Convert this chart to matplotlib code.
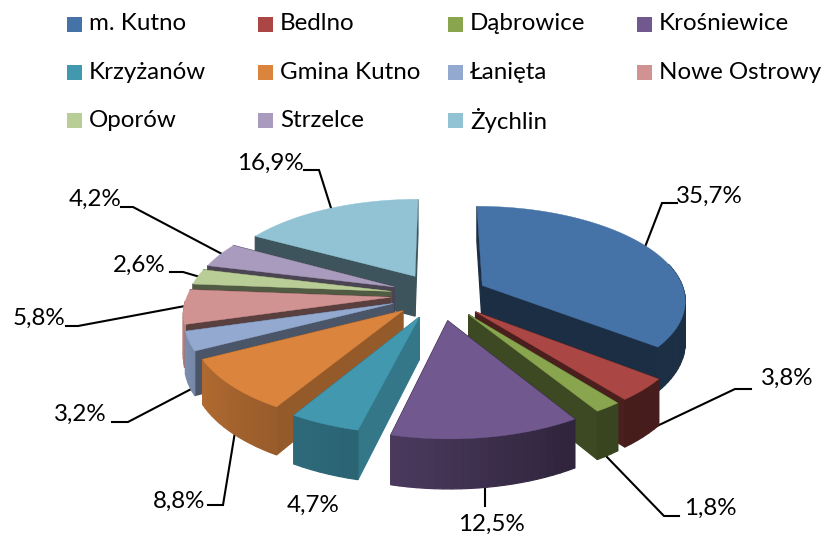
import numpy as np
import matplotlib
matplotlib.use("Agg")
import matplotlib.pyplot as plt
from matplotlib.patches import Rectangle

# ---- data ----
categories = ["m. Kutno", "Bedlno", "Dąbrowice", "Krośniewice", "Krzyżanów", "Gmina Kutno",
              "Łanięta", "Nowe Ostrowy", "Oporów", "Strzelce", "Żychlin"]
values = [35.7, 3.8, 1.8, 12.5, 4.7, 8.8, 3.2, 5.8, 2.6, 4.2, 16.9]

# ---- styles ----
colors = ["#4572A7", "#AA4643", "#89A54E", "#71588F", "#4198AF", "#DB843D",
          "#93A9CF", "#D19392", "#B9CD96", "#A99BBD", "#91C3D5"]
side_shade = [0.40, 0.44, 0.44, 0.42, 0.78, 0.68, 0.50, 0.43, 0.44, 0.44, 0.43]
explode = [0.24, 0.25, 0.25, 0.27, 0.25, 0.24, 0.24, 0.24, 0.24, 0.24, 0.24]
draw_order = [10, 9, 8, 7, 6, 0, 1, 2, 5, 4, 3]
shade_angles = [90, 150, 193, 211, 245, 270]
shade_levels = [0.40, 0.42, 0.66, 0.70, 0.82, 0.88]

label_pos = [(709, 196), (787, 378), (710, 508), (491, 524), (313, 505), (179, 501),
             (80, 414), (39, 318), (139, 265), (95, 199), (270, 163)]
leaders = [[(645, 247), (662, 203), (677, 203)],
           [(638, 435), (735, 389), (751, 389)],
           [(605, 455), (664, 516), (679, 516)],
           [(485, 483), (485, 506)],
           None,
           [(235, 432), (223, 505), (208, 505)],
           [(197, 386), (128, 422), (112, 422)],
           [(185, 306), (78, 326), (66, 326)],
           [(200, 277), (183, 272), (170, 272)],
           [(222, 254), (133, 207), (121, 207)],
           [(331, 208), (319, 170), (304, 170)]]

# projection
CX, CY, R, B, H, K = 439, 295, 203, 93, 41, 0.143

plt.rcParams["font.family"] = ["Lato", "DejaVu Sans"]
FONT = 17.4

fig = plt.figure(figsize=(8.24, 5.34), dpi=100)
ax = fig.add_axes([0, 0, 1, 1])
ax.set_xlim(0, 824)
ax.set_ylim(534, 0)
ax.axis("off")


def project(X, Y, Z):
    s = 1 / (1 - K * np.asarray(Y))
    return CX + R * np.asarray(X) * s, CY + B * np.asarray(Y) * s + H * np.asarray(Z) * s


def shaded(color, f):
    return tuple(np.array(matplotlib.colors.to_rgb(color)) * f)


def quad(xa, ya, xb, yb, color):
    xs = [xa[0], xb[0], xb[1], xa[1]]
    ys = [ya[0], yb[0], yb[1], ya[1]]
    ax.fill(xs, ys, fc=color, ec=color, lw=0.9, zorder=3)


fractions = np.array(values) / sum(values)
edges = np.concatenate([[0], np.cumsum(fractions)]) * 2 * np.pi

for seq, i in enumerate(draw_order):
    t0, t1 = edges[i], edges[i + 1]
    mid = (t0 + t1) / 2
    ex, ey = explode[i] * np.sin(mid), -explode[i] * np.cos(mid)
    t = np.linspace(t0, t1, max(int((t1 - t0) * 30), 4))
    ox, oy = ex + np.sin(t), ey - np.cos(t)

    # radial walls, farther one first
    walls = sorted([(oy[0], ox[0]), (oy[-1], ox[-1])])
    for wy, wx in walls:
        xa, ya = project([ex, ex], [ey, ey], [0, 1])
        xb, yb = project([wx, wx], [wy, wy], [0, 1])
        quad(xa, ya, xb, yb, shaded(colors[i], side_shade[i]))

    # outer wall as graded strips
    for a in range(len(t) - 1):
        am = np.degrees((t[a] + t[a + 1]) / 2)
        if am < 75 or am > 268:
            continue
        xa, ya = project([ox[a]] * 2, [oy[a]] * 2, [0, 1])
        xb, yb = project([ox[a + 1]] * 2, [oy[a + 1]] * 2, [0, 1])
        f = np.interp(np.degrees(t[a]), shade_angles, shade_levels)
        quad(xa, ya, xb, yb, shaded(colors[i], f))

    # top face
    px, py = project(np.r_[ex, ox], np.r_[ey, oy], np.zeros(len(t) + 1))
    ax.fill(px, py, fc=colors[i], ec=colors[i], lw=0.3, zorder=3)

# leaders and value labels
for v, pos, line in zip(values, label_pos, leaders):
    if line is not None:
        ax.plot(*zip(*line), color="black", lw=1.5, zorder=2, solid_joinstyle="miter")
    ax.text(pos[0], pos[1], f"{v:.1f}%".replace(".", ","), ha="center", va="center",
            fontsize=FONT, color="black", zorder=5)

# legend
col_x = [67, 258, 448, 637]
row_y = [24, 72.5, 120.5]
for n, (name, c) in enumerate(zip(categories, colors)):
    x, y = col_x[n % 4], row_y[n // 4]
    ax.add_patch(Rectangle((x, y - 7.5), 15, 15, fc=c, ec="none", zorder=4))
    ax.text(x + 22, y, name, ha="left", va="center", fontsize=FONT, color="black", zorder=5)

fig.savefig("out.png", dpi=100, facecolor="white")
